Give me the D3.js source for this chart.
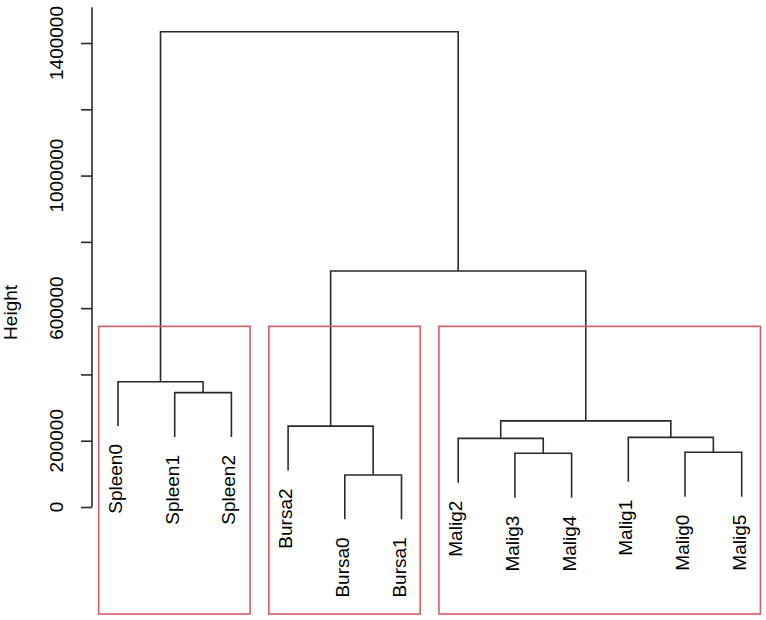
<!DOCTYPE html>
<html><head><meta charset="utf-8">
<script src="https://cdn.jsdelivr.net/npm/d3@7"></script>
<style>body{margin:0;background:#fff}svg{display:block}</style>
</head><body><svg id="c" width="766" height="620"></svg>
<script>
// ---- data ----
const leafLabels = ["Spleen0","Spleen1","Spleen2","Bursa2","Bursa0","Bursa1",
                    "Malig2","Malig3","Malig4","Malig1","Malig0","Malig5"];
// R-style merge table: negative = leaf (1-based in leafLabels order), positive = earlier merge row
const mergeLeft   = [-5, -8, -11, -7, -10, -4, 4, -2, -1, 6, 9];
const mergeRight  = [-6, -9, -12,  2,   3,  1, 5, -3,  8, 7, 10];
const mergeHeights = [96500, 162000, 165000, 207000, 210000, 244000, 260000,
                      345000, 378000, 712000, 1434000];
const tickValues = [0, 200000, 400000, 600000, 800000, 1000000, 1200000, 1400000];
const tickLabels = ["0", "200000", "", "600000", "", "1000000", "", "1400000"];
const clusterK = 3;
const hangFraction = 0.1;
const axisTitle = "Height";

// ---- layout ----
const svg = d3.select("#c");
const font = "'Liberation Sans', Arial, Helvetica, sans-serif";
const lineColor = "#2a2a2a";
const boxColor = "#DA5B68";
const textColor = "#000";
const y = d3.scaleLinear().domain([0, 1400000]).range([507, 43]);
const x = d3.scaleLinear().domain([1, leafLabels.length]).range([118, 741.7]);
const axisX = 92;
const axisTopValue = 1508000;
const plotBottom = 614;

// ---- axis ----
const axis = d3.axisLeft(y).tickValues(tickValues).tickSize(11).tickSizeOuter(0).tickFormat(() => "");
const ga = svg.append("g").attr("transform", `translate(${axisX},0)`).call(axis);
ga.select(".domain").attr("d", `M0,${y(axisTopValue)}V${y(0)}`).attr("stroke", lineColor).attr("stroke-width", 1.6);
ga.selectAll(".tick line").attr("stroke", lineColor).attr("stroke-width", 1.6);
svg.append("g").selectAll("text").data(tickValues).join("text")
  .attr("transform", d => `translate(63,${y(d)}) rotate(-90)`)
  .attr("text-anchor", "middle")
  .attr("font-family", font).attr("font-size", 19).attr("fill", textColor)
  .text((d, i) => tickLabels[i]);
svg.append("text")
  .attr("transform", `translate(17,${(y(600000)+y(200000))/2 - 62}) rotate(-90)`)
  .attr("text-anchor", "middle")
  .attr("font-family", font).attr("font-size", 19).attr("fill", textColor)
  .text(axisTitle);

// ---- dendrogram ----
const hMin = d3.min(mergeHeights), hMax = d3.max(mergeHeights);
const hang = hangFraction * (hMax - hMin);
const nodeX = [];
const childX = c => c < 0 ? x(-c) : nodeX[c - 1];
mergeHeights.forEach((h, i) => {
  nodeX[i] = (childX(mergeLeft[i]) + childX(mergeRight[i])) / 2;
});
const leafBottom = {};
const paths = mergeHeights.map((h, i) => {
  const l = mergeLeft[i], r = mergeRight[i];
  const bottom = c => {
    if (c < 0) { leafBottom[-c] = h - hang; return h - hang; }
    return mergeHeights[c - 1];
  };
  const bl = bottom(l), br = bottom(r);
  return `M${childX(l)},${y(bl)}V${y(h)}H${childX(r)}V${y(br)}`;
});
svg.append("g").selectAll("path").data(paths).join("path")
  .attr("d", d => d).attr("fill", "none")
  .attr("stroke", lineColor).attr("stroke-width", 1.6);

// leaf labels
svg.append("g").selectAll("text").data(leafLabels).join("text")
  .attr("transform", (d, i) => `translate(${x(i + 1) + 4},${y(leafBottom[i + 1]) + 18}) rotate(-90)`)
  .attr("text-anchor", "end")
  .attr("font-family", font).attr("font-size", 19).attr("fill", textColor)
  .text(d => d);

// ---- rect.hclust boxes (k = 3) ----
const nMerge = mergeHeights.length;
const cutTop = (mergeHeights[nMerge - clusterK] + mergeHeights[nMerge - clusterK + 1]) / 2;
function leavesOf(c) { return c < 0 ? [-c] : leavesOf(mergeLeft[c - 1]).concat(leavesOf(mergeRight[c - 1])); }
let roots = [nMerge];
while (roots.length < clusterK) {
  roots.sort((a, b) => (a > 0 ? mergeHeights[a - 1] : 0) - (b > 0 ? mergeHeights[b - 1] : 0));
  const top = roots.pop();
  roots.push(mergeLeft[top - 1], mergeRight[top - 1]);
}
const clusters = roots.map(r => d3.extent(leavesOf(r))).sort((a, b) => a[0] - b[0]);
svg.append("g").selectAll("rect").data(clusters).join("rect")
  .attr("x", d => x(d[0] - 0.34))
  .attr("y", y(cutTop))
  .attr("width", d => x(d[1] + 0.33) - x(d[0] - 0.34))
  .attr("height", plotBottom - y(cutTop))
  .attr("fill", "none").attr("stroke", boxColor).attr("stroke-width", 1.6);
</script>
</body></html>
